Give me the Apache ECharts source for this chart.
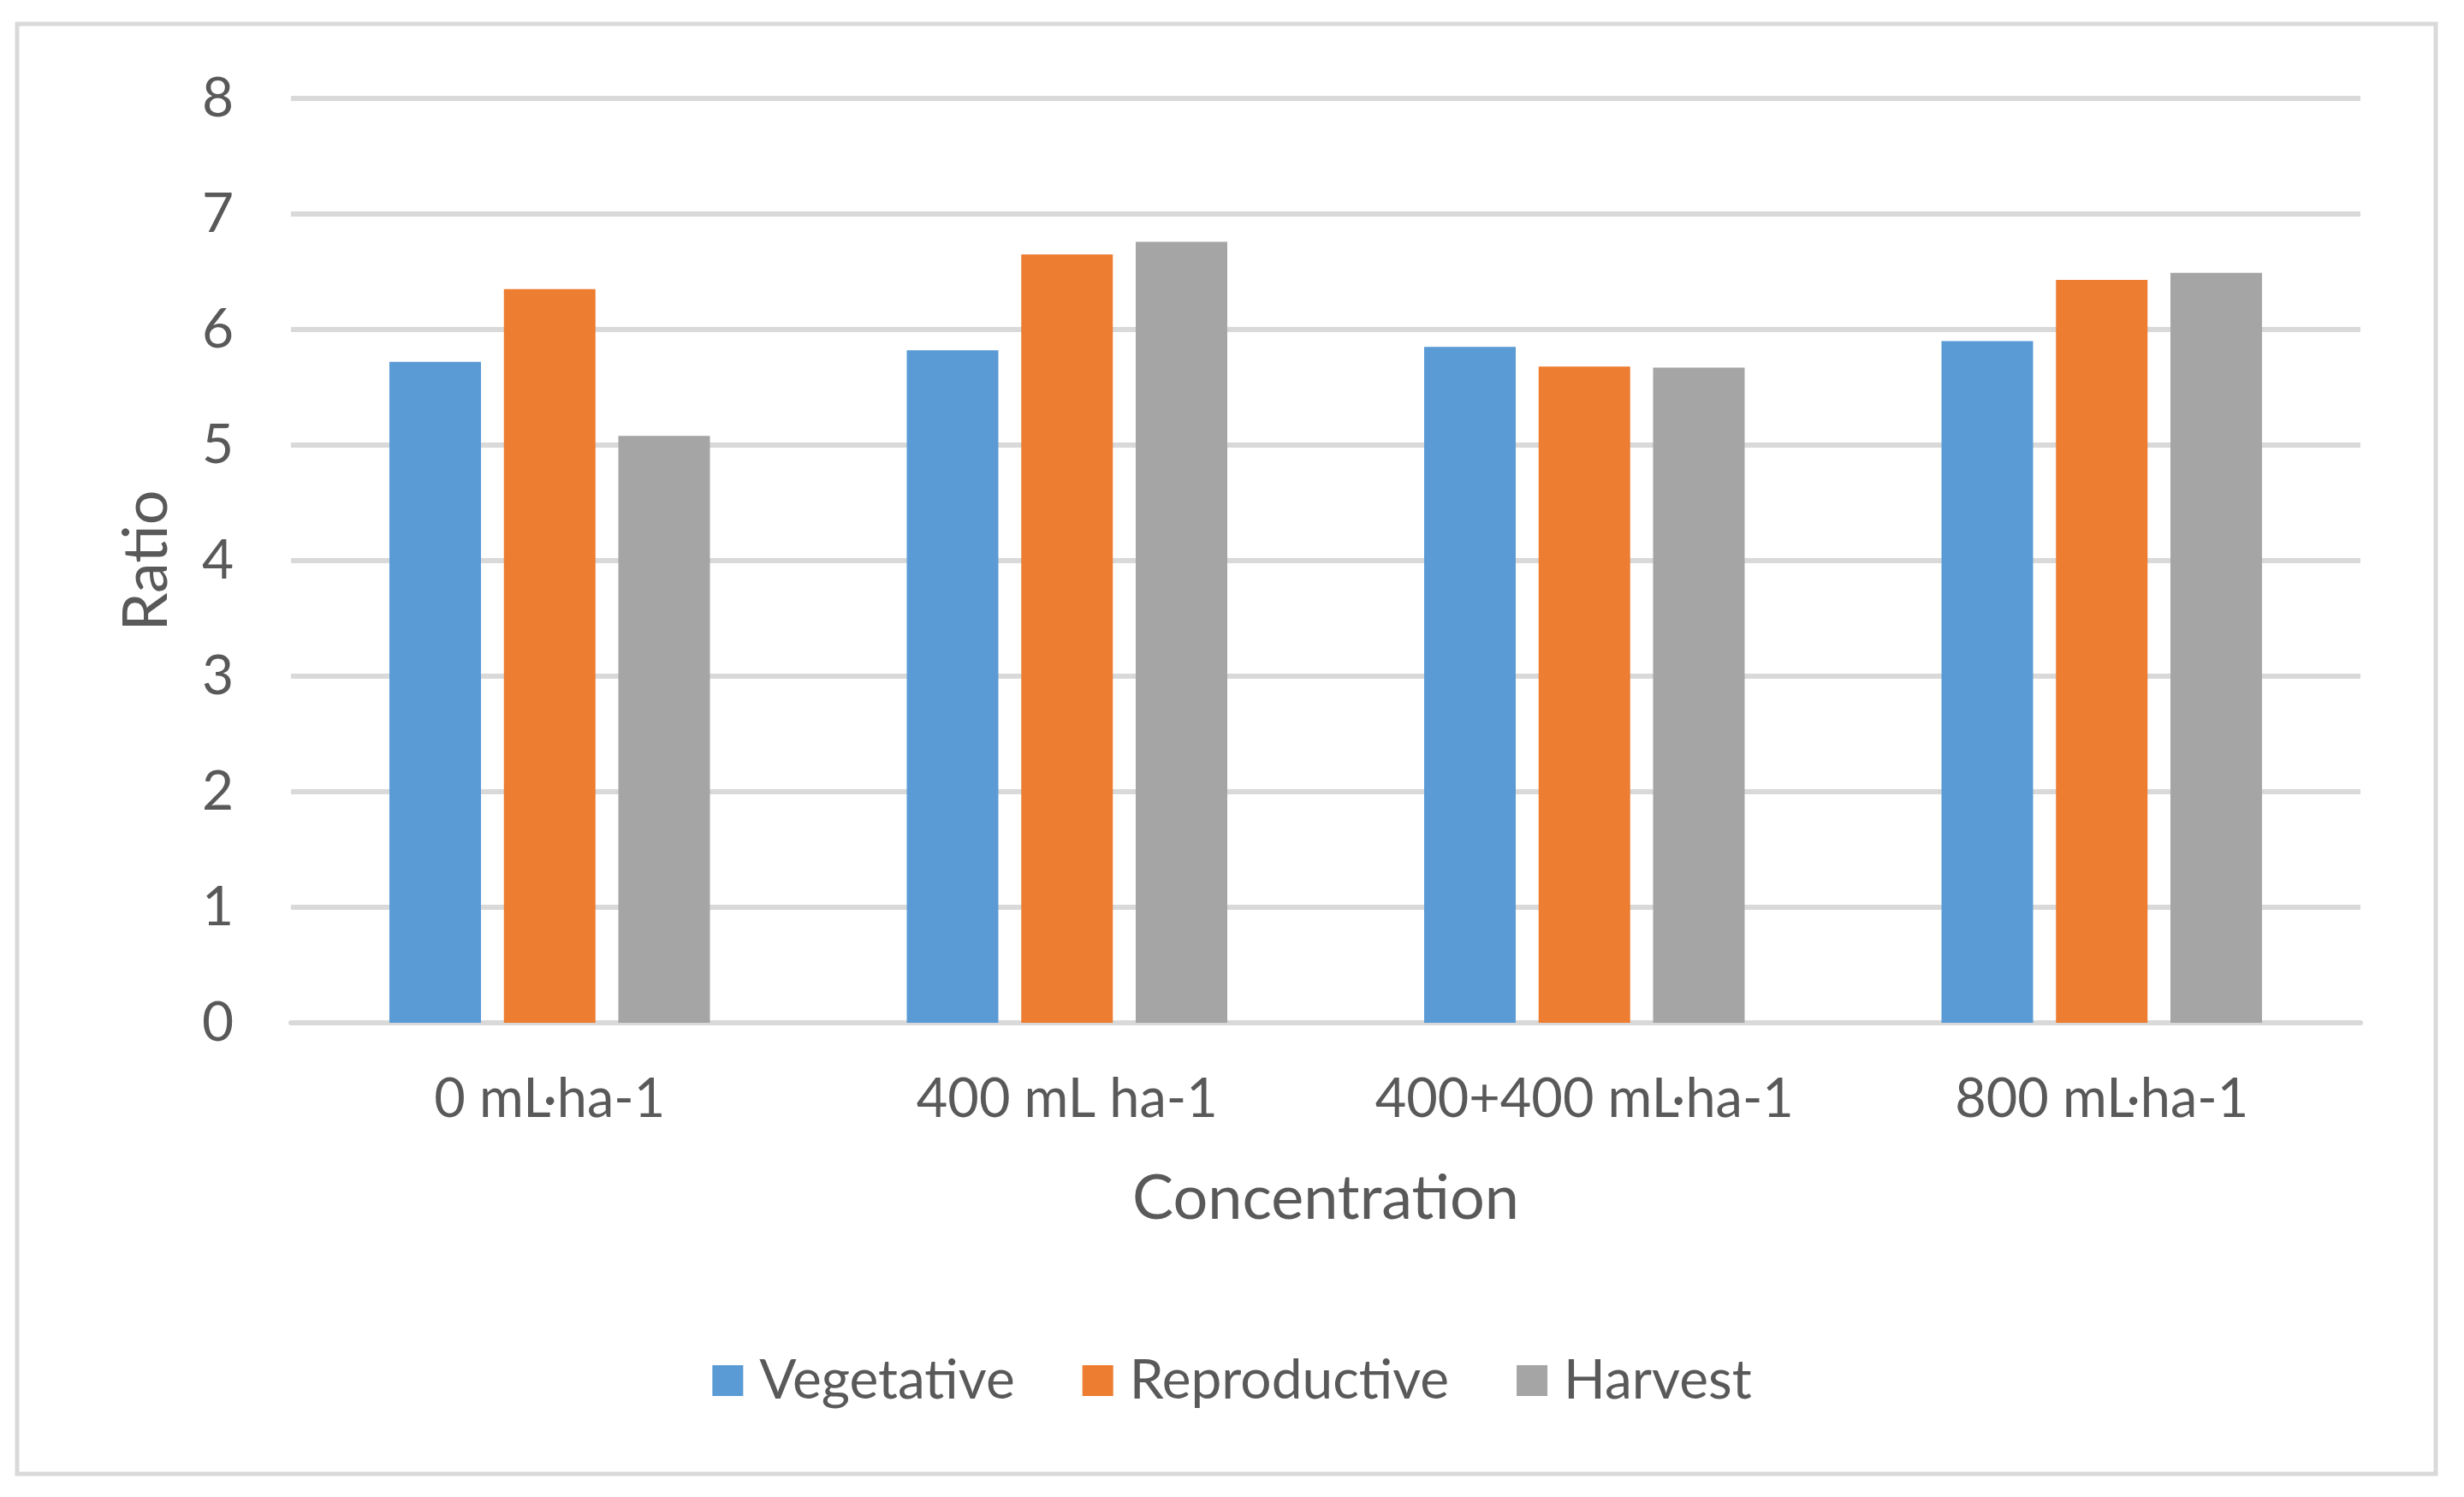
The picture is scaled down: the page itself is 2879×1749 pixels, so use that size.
<!DOCTYPE html>
<html>
<head>
<meta charset="utf-8">
<title>Ratio by concentration</title>
<script src="https://cdn.jsdelivr.net/npm/echarts@6/dist/echarts.min.js"></script>
<style>
  html, body { margin: 0; padding: 0; background: #fff; }
  #chart { width: 2879px; height: 1749px; }
</style>
</head>
<body>
<div id="chart"></div>
<script>
const categories = ['0 mL·ha-1', '400 mL ha-1', '400+400 mL·ha-1', '800 mL·ha-1']
const vegetative = [5.72, 5.82, 5.85, 5.90]
const reproductive = [6.35, 6.65, 5.68, 6.43]
const harvest = [5.08, 6.76, 5.67, 6.49]

const textColor = '#595959'
const gridColor = '#d9d9d9'
const font = 'Lato'

const chart = echarts.init(document.getElementById('chart'))

function bar(name, data, color) {
  return {
    name,
    type: 'bar',
    data,
    barWidth: 107,
    barGap: '25%',
    itemStyle: { color },
    animation: false
  }
}

chart.setOption({
  animation: false,
  backgroundColor: '#fff',
  textStyle: { fontFamily: font },
  graphic: [{
    type: 'rect',
    shape: { x: 20, y: 28, width: 2826, height: 1694 },
    style: { fill: 'none', stroke: gridColor, lineWidth: 5 },
    silent: true
  }],
  grid: { left: 340, right: 121, top: 115, bottom: 554 },
  legend: {
    data: ['Vegetative', 'Reproductive', 'Harvest'],
    top: 1576,
    left: 'center',
    itemWidth: 36,
    itemHeight: 36,
    itemGap: 79,
    icon: 'rect',
    textStyle: { fontSize: 64, color: textColor, fontFamily: font, padding: [0, 0, 0, 14] }
  },
  xAxis: {
    type: 'category',
    data: categories,
    name: 'Concentration',
    nameLocation: 'middle',
    nameGap: 170,
    nameTextStyle: { fontSize: 72, color: textColor, fontFamily: font },
    axisLine: { show: true, lineStyle: { color: gridColor, width: 6 } },
    axisTick: { show: false },
    axisLabel: { interval: 0, fontSize: 63, color: textColor, margin: 58, fontFamily: font }
  },
  yAxis: {
    type: 'value',
    min: 0,
    max: 8,
    interval: 1,
    name: 'Ratio',
    nameLocation: 'middle',
    nameGap: 132,
    nameTextStyle: { fontSize: 72, color: textColor, fontFamily: font },
    axisLine: { show: false },
    axisTick: { show: false },
    axisLabel: { fontSize: 64, color: textColor, margin: 67, fontFamily: font },
    splitLine: { lineStyle: { color: gridColor, width: 6 } }
  },
  series: [
    bar('Vegetative', vegetative, '#5b9bd5'),
    bar('Reproductive', reproductive, '#ed7d31'),
    bar('Harvest', harvest, '#a5a5a5')
  ]
})
</script>
</body>
</html>
